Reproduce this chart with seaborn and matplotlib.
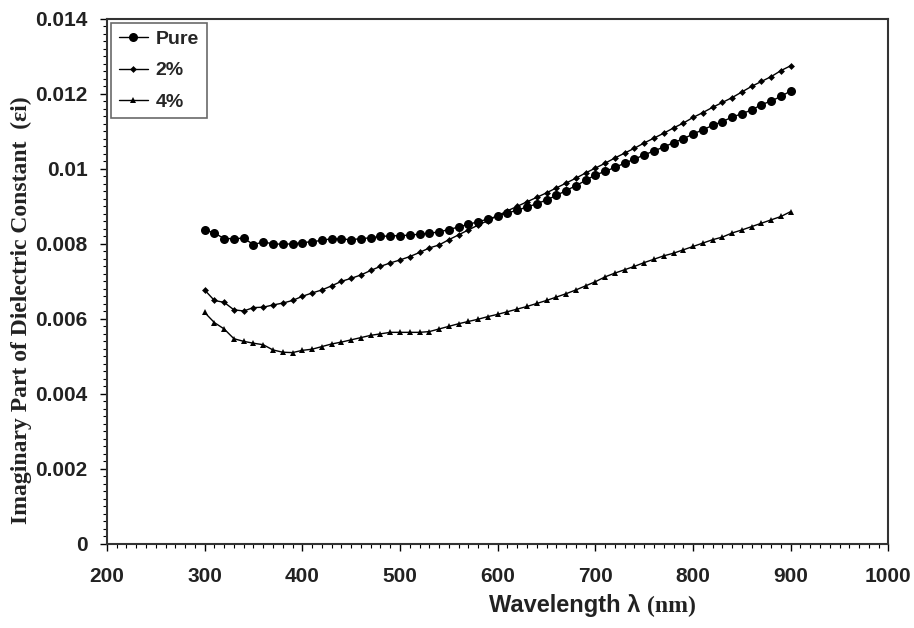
import numpy as np
import pandas as pd
import matplotlib
matplotlib.use("Agg")
import matplotlib.pyplot as plt
import seaborn as sns
from matplotlib.ticker import MultipleLocator, FuncFormatter

wavelength = list(range(300, 901, 10))

pure = [0.00837, 0.00829, 0.00814, 0.00814, 0.00815, 0.00798, 0.00805, 0.00800, 0.00799, 0.00800,
        0.00803, 0.00806, 0.00809, 0.00814, 0.00813, 0.00811, 0.00814, 0.00816, 0.00820, 0.00821,
        0.00822, 0.00823, 0.00826, 0.00828, 0.00832, 0.00838, 0.00845, 0.00852, 0.00859, 0.00866,
        0.00874, 0.00882, 0.00890, 0.00898, 0.00907, 0.00917, 0.00929, 0.00942, 0.00955, 0.00969,
        0.00984, 0.00993, 0.01004, 0.01015, 0.01026, 0.01037, 0.01048, 0.01058, 0.01070, 0.01080,
        0.01093, 0.01104, 0.01116, 0.01126, 0.01138, 0.01147, 0.01157, 0.01171, 0.01181, 0.01193,
        0.01208]

pct2 = [0.00677, 0.00649, 0.00644, 0.00624, 0.00621, 0.00630, 0.00631, 0.00637, 0.00642, 0.00649,
        0.00660, 0.00669, 0.00677, 0.00688, 0.00700, 0.00708, 0.00717, 0.00729, 0.00740, 0.00749,
        0.00757, 0.00766, 0.00777, 0.00789, 0.00797, 0.00811, 0.00824, 0.00837, 0.00850, 0.00862,
        0.00875, 0.00888, 0.00900, 0.00912, 0.00924, 0.00936, 0.00949, 0.00962, 0.00975, 0.00989,
        0.01002, 0.01015, 0.01029, 0.01042, 0.01055, 0.01069, 0.01082, 0.01095, 0.01109, 0.01122,
        0.01137, 0.01150, 0.01164, 0.01177, 0.01190, 0.01205, 0.01220, 0.01233, 0.01246, 0.01262,
        0.01275]

pct4 = [0.00617, 0.00590, 0.00573, 0.00547, 0.00540, 0.00535, 0.00531, 0.00517, 0.00511, 0.00510,
        0.00516, 0.00519, 0.00526, 0.00533, 0.00538, 0.00544, 0.00550, 0.00556, 0.00560, 0.00564,
        0.00564, 0.00564, 0.00564, 0.00566, 0.00573, 0.00580, 0.00587, 0.00593, 0.00599, 0.00606,
        0.00612, 0.00619, 0.00626, 0.00633, 0.00641, 0.00649, 0.00658, 0.00667, 0.00677, 0.00688,
        0.00699, 0.00712, 0.00722, 0.00731, 0.00740, 0.00750, 0.00759, 0.00768, 0.00775, 0.00784,
        0.00793, 0.00802, 0.00811, 0.00818, 0.00829, 0.00837, 0.00846, 0.00855, 0.00864, 0.00873,
        0.00886]

series_names = ["Pure", "2%", "4%"]

df = pd.DataFrame({
    "wavelength": wavelength * 3,
    "value": pure + pct2 + pct4,
    "series": [series_names[0]] * len(pure) + [series_names[1]] * len(pct2) + [series_names[2]] * len(pct4),
})

sns.set_theme(style="white")
plt.rcParams['font.family'] = ['Liberation Sans', 'DejaVu Sans']

fig = plt.figure(figsize=(9.14, 6.28), dpi=100)
ax = fig.add_axes([0.117, 0.134, 0.855, 0.836])

styles = {"Pure": dict(marker="o", markersize=6.5),
          "2%": dict(marker="D", markersize=3.5),
          "4%": dict(marker="^", markersize=5)}
for name in series_names:
    sub = df[df["series"] == name]
    sns.lineplot(data=sub, x="wavelength", y="value", ax=ax, color="black",
                 linewidth=1.0, label=name, markeredgewidth=0, **styles[name])

ax.set_xlim(200, 1000)
ax.set_ylim(0, 0.014)
ax.xaxis.set_major_locator(MultipleLocator(100))
ax.xaxis.set_minor_locator(MultipleLocator(10))
ax.yaxis.set_major_locator(MultipleLocator(0.002))
ax.yaxis.set_minor_locator(MultipleLocator(0.0002))

def yfmt(v, pos):
    v = round(v, 6)
    return "0" if v == 0 else f"{v:g}"
ax.yaxis.set_major_formatter(FuncFormatter(yfmt))

ax.tick_params(axis="both", which="major", direction="out", length=5, width=1.0,
               color="black", labelsize=15, bottom=True, left=True)
ax.tick_params(axis="x", which="major", pad=12)
ax.tick_params(axis="y", which="major", pad=9)
ax.tick_params(axis="both", which="minor", direction="out", length=3, width=0.8,
               color="black", bottom=True, left=True)
for lab in ax.get_xticklabels() + ax.get_yticklabels():
    lab.set_fontweight("bold")
    lab.set_color("#222222")

for sp in ax.spines.values():
    sp.set_color("#333333")
    sp.set_linewidth(1.5)

ax.set_xlabel("")
fig.text(0.701, 0.0255, "Wavelength λ", ha="right", va="baseline", fontsize=17,
         fontweight="bold", color="#222222")
fig.text(0.708, 0.0255, "(nm)", ha="left", va="baseline", fontsize=17,
         family=["Liberation Serif", "DejaVu Serif"], fontweight="bold", color="#222222")

ax.set_ylabel("Imaginary Part of Dielectric Constant  (εi)", fontsize=17,
              family=["Liberation Serif", "DejaVu Serif"], fontweight="bold",
              color="#222222", va="center", ha="center")
ax.yaxis.set_label_coords(-0.109, 0.446)

leg = ax.legend(loc="upper left", frameon=True, fancybox=False, edgecolor="#444444",
                fontsize=14, handlelength=1.5, borderaxespad=0.2, labelspacing=0.7,
                handletextpad=0.4, borderpad=0.4)
leg.get_frame().set_linewidth(1.2)
for t in leg.get_texts():
    t.set_fontweight("bold")

fig.savefig("out.png", dpi=100)
